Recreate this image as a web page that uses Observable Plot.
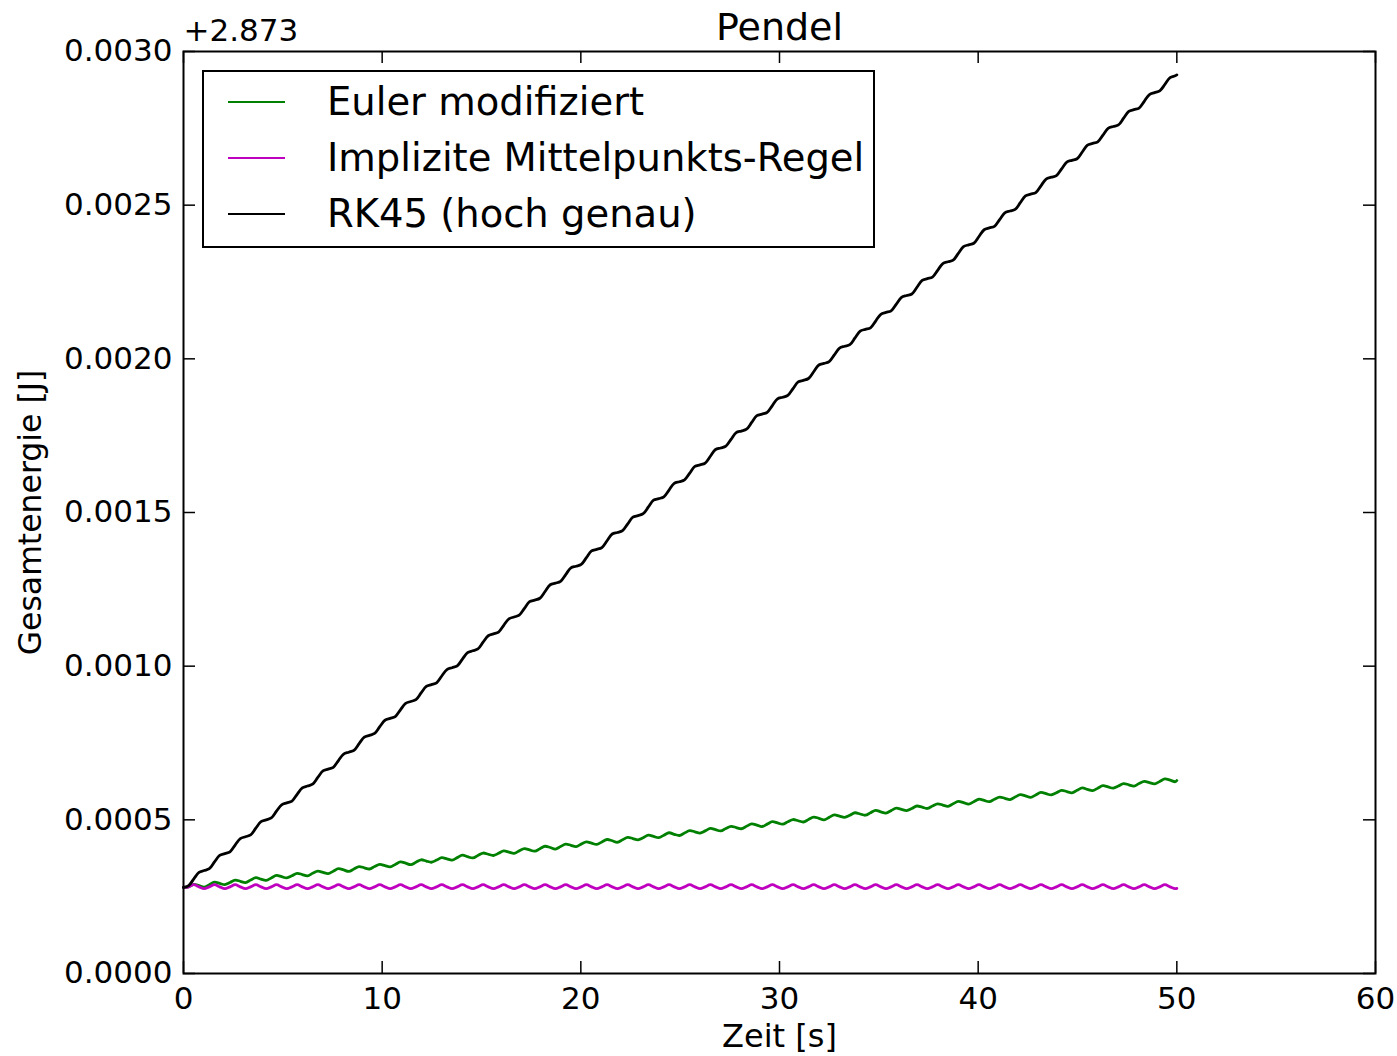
<!DOCTYPE html>
<html>
<head>
<meta charset="utf-8">
<script src="https://cdn.jsdelivr.net/npm/d3@7"></script>
<script src="https://cdn.jsdelivr.net/npm/@observablehq/plot@0.6"></script>
<style>
  body { margin: 0; background: #fff; font-family: "DejaVu Sans", sans-serif; }
  #wrap { position: relative; width: 1397px; height: 1056px; overflow: hidden; }
  #legend { position: absolute; left: 202px; top: 70px; width: 669px; height: 174px;
            border: 2px solid #000; background: #fff; font-size: 38.5px; color: #000; }
  .sw { position: absolute; left: 24px; width: 57px; height: 0; border-top: 2px solid; }
  .lab { position: absolute; left: 123px; line-height: 44px; white-space: nowrap; }
</style>
</head>
<body>
<div id="wrap">
  <div id="chart"></div>
  <div id="legend"></div>
</div>
<script>
// Zeit [s]
const zeit = [
  0,0.26,0.52,0.78,1.04,1.30,1.56,1.82,2.08,2.34,2.60,2.86,3.12,3.38,3.64,3.90,
  4.16,4.42,4.68,4.94,5.20,5.46,5.72,5.98,6.24,6.50,6.76,7.02,7.28,7.54,7.80,8.06,
  8.32,8.58,8.84,9.10,9.36,9.62,9.88,10.14,10.40,10.66,10.92,11.18,11.44,11.70,11.96,12.22,
  12.48,12.74,13.00,13.26,13.52,13.78,14.04,14.30,14.56,14.82,15.08,15.34,15.60,15.86,16.12,16.38,
  16.64,16.90,17.16,17.42,17.68,17.94,18.20,18.46,18.72,18.98,19.24,19.50,19.76,20.02,20.28,20.54,
  20.80,21.06,21.32,21.58,21.84,22.10,22.36,22.62,22.88,23.14,23.40,23.66,23.92,24.18,24.44,24.70,
  24.96,25.22,25.48,25.74,26.00,26.26,26.52,26.78,27.04,27.30,27.56,27.82,28.08,28.34,28.60,28.86,
  29.12,29.38,29.64,29.90,30.16,30.42,30.68,30.94,31.20,31.46,31.72,31.98,32.24,32.50,32.76,33.02,
  33.28,33.54,33.80,34.06,34.32,34.58,34.84,35.10,35.36,35.62,35.88,36.14,36.40,36.66,36.92,37.18,
  37.44,37.70,37.96,38.22,38.48,38.74,39.00,39.26,39.52,39.78,40.04,40.30,40.56,40.82,41.08,41.34,
  41.60,41.86,42.12,42.38,42.64,42.90,43.16,43.42,43.68,43.94,44.20,44.46,44.72,44.98,45.24,45.50,
  45.76,46.02,46.28,46.54,46.80,47.06,47.32,47.58,47.84,48.10,48.36,48.62,48.88,49.14,49.40,49.66,
  49.92,50
];
// Gesamtenergie minus 2.873 J, in Mikrojoule
const eulerMod = [
  280,282,290,286, 281,289,297,293, 289,296,304,300, 296,304,312,307,
  303,311,319,315, 311,318,326,322, 318,326,333,329, 325,333,341,337,
  332,340,348,344, 340,348,355,351, 347,355,363,359, 354,362,370,366,
  362,369,377,373, 369,377,385,380, 376,384,392,388, 384,391,399,395,
  391,399,406,402, 398,406,414,410, 405,413,421,417, 413,421,428,424,
  420,428,436,432, 427,435,443,439, 435,442,450,446, 442,450,458,453,
  449,457,465,461, 457,464,472,468, 464,472,479,475, 471,479,487,483,
  478,486,494,490, 486,494,501,497, 493,501,509,505, 500,508,516,512,
  508,515,523,519, 515,523,531,526, 522,530,538,534, 530,537,545,541,
  537,545,552,548, 544,552,560,556, 551,559,567,563, 559,567,574,570,
  566,574,582,578, 573,581,589,585, 581,588,596,592, 588,596,604,599,
  595,603,611,607, 603,610,618,614, 610,618,625,621, 617,625,633,629,
  624,628
];
const implMitte = [
  280,
  282,289,282,276, 282,289,282,276, 282,289,282,276, 282,289,282,276,
  282,289,282,276, 282,289,282,276, 282,289,282,276, 282,289,282,276,
  282,289,282,276, 282,289,282,276, 282,289,282,276, 282,289,282,276,
  282,289,282,276, 282,289,282,276, 282,289,282,276, 282,289,282,276,
  282,289,282,276, 282,289,282,276, 282,289,282,276, 282,289,282,276,
  282,289,282,276, 282,289,282,276, 282,289,282,276, 282,289,282,276,
  282,289,282,276, 282,289,282,276, 282,289,282,276, 282,289,282,276,
  282,289,282,276, 282,289,282,276, 282,289,282,276, 282,289,282,276,
  282,289,282,276, 282,289,282,276, 282,289,282,276, 282,289,282,276,
  282,289,282,276, 282,289,282,276, 282,289,282,276, 282,289,282,276,
  282,289,282,276, 282,289,282,276, 282,289,282,276, 282,289,282,276,
  282,289,282,276, 282,289,282,276, 282,289,282,276, 282,289,282,276,
  277
];
const rk45 = [
  280,286,308,329, 335,341,363,384, 390,396,418,439, 445,451,473,494,
  500,506,528,549, 555,561,583,604, 610,616,638,659, 665,671,693,714,
  720,726,748,769, 775,781,803,824, 830,836,858,879, 885,891,913,934,
  940,946,968,989, 995,1001,1023,1044, 1050,1056,1078,1099, 1105,1111,1133,1154,
  1160,1166,1188,1210, 1215,1221,1243,1265, 1270,1276,1298,1320, 1325,1331,1353,1375,
  1380,1386,1408,1430, 1435,1441,1463,1485, 1490,1496,1518,1540, 1545,1551,1573,1595,
  1600,1606,1628,1650, 1655,1661,1683,1705, 1710,1716,1738,1760, 1765,1771,1793,1815,
  1820,1826,1848,1870, 1875,1881,1903,1925, 1930,1936,1958,1980, 1985,1991,2013,2035,
  2041,2046,2068,2090, 2096,2101,2123,2145, 2151,2156,2178,2200, 2206,2211,2233,2255,
  2261,2266,2288,2310, 2316,2321,2343,2365, 2371,2376,2398,2420, 2426,2431,2453,2475,
  2481,2486,2508,2530, 2536,2541,2563,2585, 2591,2596,2618,2640, 2646,2651,2673,2695,
  2701,2706,2728,2750, 2756,2761,2783,2805, 2811,2816,2838,2860, 2866,2872,2893,2915,
  2921,2924
];
const seriesNames = ["Euler modifiziert", "Implizite Mittelpunkts-Regel", "RK45 (hoch genau)"];
const seriesColors = ["#008000", "#bf00bf", "#000000"];
const seriesValues = [eulerMod, implMitte, rk45];
const xTicks = [0, 10, 20, 30, 40, 50, 60];
const yTicks = [0, 500, 1000, 1500, 2000, 2500, 3000];
const yOffsetLabel = "+2.873";
const titleText = "Pendel";
const xLabel = "Zeit [s]";
const yLabel = "Gesamtenergie [J]";

const W = 1397, H = 1056, mL = 183, mR = 22, mT = 51, mB = 83;
const iw = W - mL - mR, ih = H - mT - mB, tick = 12;

const lines = seriesValues.map((vals, s) =>
  Plot.line(zeit.map((t, i) => ({t, e: vals[i]})), {
    x: "t", y: "e", stroke: seriesColors[s], strokeWidth: 2.8, curve: "catmull-rom"
  })
);

const chart = Plot.plot({
  width: W, height: H,
  marginLeft: mL, marginRight: mR, marginTop: mT, marginBottom: mB,
  style: {fontFamily: "'DejaVu Sans', sans-serif", fontSize: "31px", color: "#000", background: "#fff"},
  x: {domain: [0, 60]},
  y: {domain: [0, 3000]},
  marks: [
    ...lines,
    Plot.ruleX(xTicks, {x: d => d, insetTop: ih - tick, stroke: "#000", strokeWidth: 1.5}),
    Plot.ruleX(xTicks, {x: d => d, insetBottom: ih - tick, stroke: "#000", strokeWidth: 1.5}),
    Plot.ruleY(yTicks, {y: d => d, insetRight: iw - tick, stroke: "#000", strokeWidth: 1.5}),
    Plot.ruleY(yTicks, {y: d => d, insetLeft: iw - tick, stroke: "#000", strokeWidth: 1.5}),
    Plot.frame({stroke: "#000", strokeWidth: 2}),
    Plot.axisX(xTicks, {tickSize: 0, tickPadding: 13, label: null, fontSize: 31}),
    Plot.axisY(yTicks, {tickSize: 0, tickPadding: 11, label: null, fontSize: 31,
      tickFormat: d => (d / 1e6).toFixed(4)}),
    Plot.text([titleText], {text: d => d, frameAnchor: "top", textAnchor: "middle", lineAnchor: "middle",
      dy: -24, fontSize: 38}),
    Plot.text([yOffsetLabel], {text: d => d, frameAnchor: "top-left", textAnchor: "start", lineAnchor: "middle",
      dy: -20, fontSize: 31}),
    Plot.text([xLabel], {text: d => d, frameAnchor: "bottom", textAnchor: "middle", lineAnchor: "middle",
      dy: 63, fontSize: 32}),
    Plot.text([yLabel], {text: d => d, frameAnchor: "left", textAnchor: "middle", lineAnchor: "middle",
      dx: -153, rotate: -90, fontSize: 31.5})
  ]
});
document.getElementById("chart").appendChild(chart);

const legend = document.getElementById("legend");
const rowCenters = [30, 86, 142];
seriesNames.forEach((name, i) => {
  const sw = document.createElement("div");
  sw.className = "sw";
  sw.style.borderTopColor = seriesColors[i];
  sw.style.top = (rowCenters[i] - 1) + "px";
  legend.appendChild(sw);
  const lab = document.createElement("div");
  lab.className = "lab";
  lab.style.top = (rowCenters[i] - 22) + "px";
  lab.textContent = name;
  legend.appendChild(lab);
});
</script>
</body>
</html>
